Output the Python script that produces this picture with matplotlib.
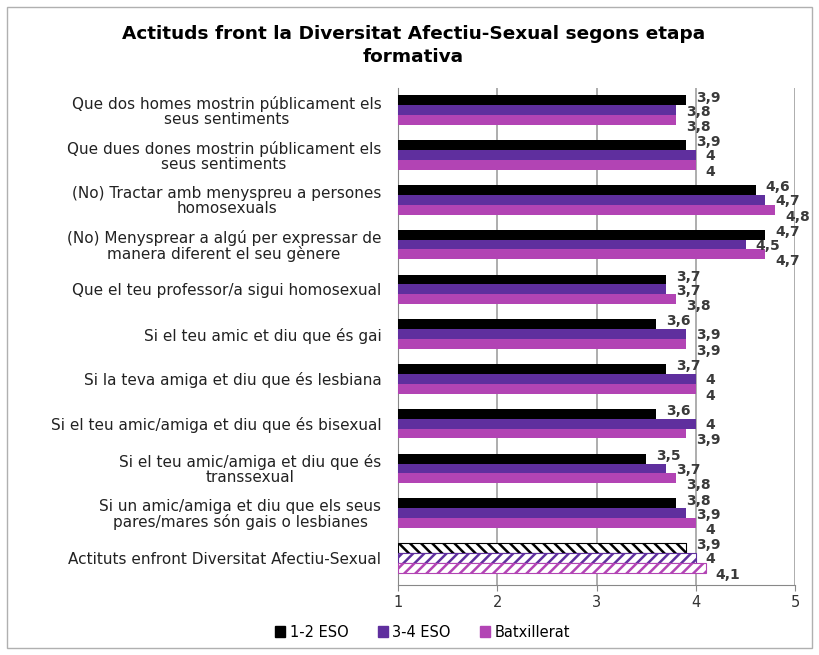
import matplotlib
matplotlib.use("Agg")
import matplotlib.pyplot as plt
from matplotlib.patches import Rectangle
import numpy as np

plt.rcParams['font.family'] = ['DejaVu Sans']
plt.rcParams['hatch.linewidth'] = 1.8

categories = [
    "Que dos homes mostrin públicament els\nseus sentiments",
    "Que dues dones mostrin públicament els\nseus sentiments",
    "(No) Tractar amb menyspreu a persones\nhomosexuals",
    "(No) Menysprear a algú per expressar de\nmanera diferent el seu gènere",
    "Que el teu professor/a sigui homosexual",
    "Si el teu amic et diu que és gai",
    "Si la teva amiga et diu que és lesbiana",
    "Si el teu amic/amiga et diu que és bisexual",
    "Si el teu amic/amiga et diu que és\ntranssexual",
    "Si un amic/amiga et diu que els seus\npares/mares són gais o lesbianes",
    "Actituts enfront Diversitat Afectiu-Sexual",
]
eso12 = [3.9, 3.9, 4.6, 4.7, 3.7, 3.6, 3.7, 3.6, 3.5, 3.8, 3.9]
eso34 = [3.8, 4.0, 4.7, 4.5, 3.7, 3.9, 4.0, 4.0, 3.7, 3.9, 4.0]
batx = [3.8, 4.0, 4.8, 4.7, 3.8, 3.9, 4.0, 3.9, 3.8, 4.0, 4.1]
series_names = ["1-2 ESO", "3-4 ESO", "Batxillerat"]
xticks = [1, 2, 3, 4, 5]

colors = ["#000000", "#5f2f9e", "#b244b4"]
hatches = ["\\\\\\", "///", "///"]

fig = plt.figure(figsize=(8.19, 6.55), dpi=100)
fig.patches.append(Rectangle((0.008, 0.01), 0.984, 0.98, transform=fig.transFigure,
                             fill=False, edgecolor="#b0b0b0", linewidth=1.0))
ax = fig.add_axes([0.486, 0.107, 0.485, 0.759])

y = np.arange(len(categories))
h = 0.22
offs = [-h, 0, h]
label_dy = [2, -1, -5]
data = [eso12, eso34, batx]
n = len(categories)
for s in range(3):
    vals = data[s]
    for i, v in enumerate(vals):
        last = (i == n - 1)
        if last:
            ax.barh(y[i] + offs[s], v - 1, left=1, height=h, color="white",
                    edgecolor=colors[s], hatch=hatches[s], linewidth=0.8, zorder=3)
        else:
            ax.barh(y[i] + offs[s], v - 1, left=1, height=h, color=colors[s],
                    edgecolor="none", zorder=3)
        txt = ("%g" % v).replace(".", ",")
        ax.annotate(txt, (v, y[i] + offs[s]), xytext=(7, label_dy[s]),
                    textcoords="offset points", ha="left", va="center",
                    fontsize=10, fontweight="bold", color="#3a3a3a", zorder=4)

ax.set_xlim(1, 5)
ax.set_ylim(n - 0.4, -0.5)
ax.set_xticks(xticks)
ax.set_xticklabels([str(t) for t in xticks], fontsize=10.5, color="#333333")
ax.set_yticks(y)
ax.set_yticklabels(categories, fontsize=11, multialignment="center",
                   linespacing=1.0, color="#222222")
ax.tick_params(axis="y", length=0, pad=12)
ax.tick_params(axis="x", length=4, color="#888888")
ax.xaxis.grid(True, color="#a0a0a0", linewidth=1.2, zorder=0)
ax.set_axisbelow(True)
for sp in ["top", "right"]:
    ax.spines[sp].set_visible(False)
ax.spines["left"].set_color("#888888")
ax.spines["bottom"].set_color("#888888")

fig.text(0.505, 0.93, "Actituds front la Diversitat Afectiu-Sexual segons etapa\nformativa",
         ha="center", va="center", fontsize=13.3, fontweight="bold", linespacing=1.35)

handles = [Rectangle((0, 0), 1, 1, color=c) for c in colors]
fig.legend(handles, series_names, loc="center", bbox_to_anchor=(0.516, 0.035), ncol=3,
           frameon=False, fontsize=10.5, handlelength=0.7, handleheight=0.7,
           columnspacing=2.0, handletextpad=0.3)

fig.savefig("out.png", dpi=100)
